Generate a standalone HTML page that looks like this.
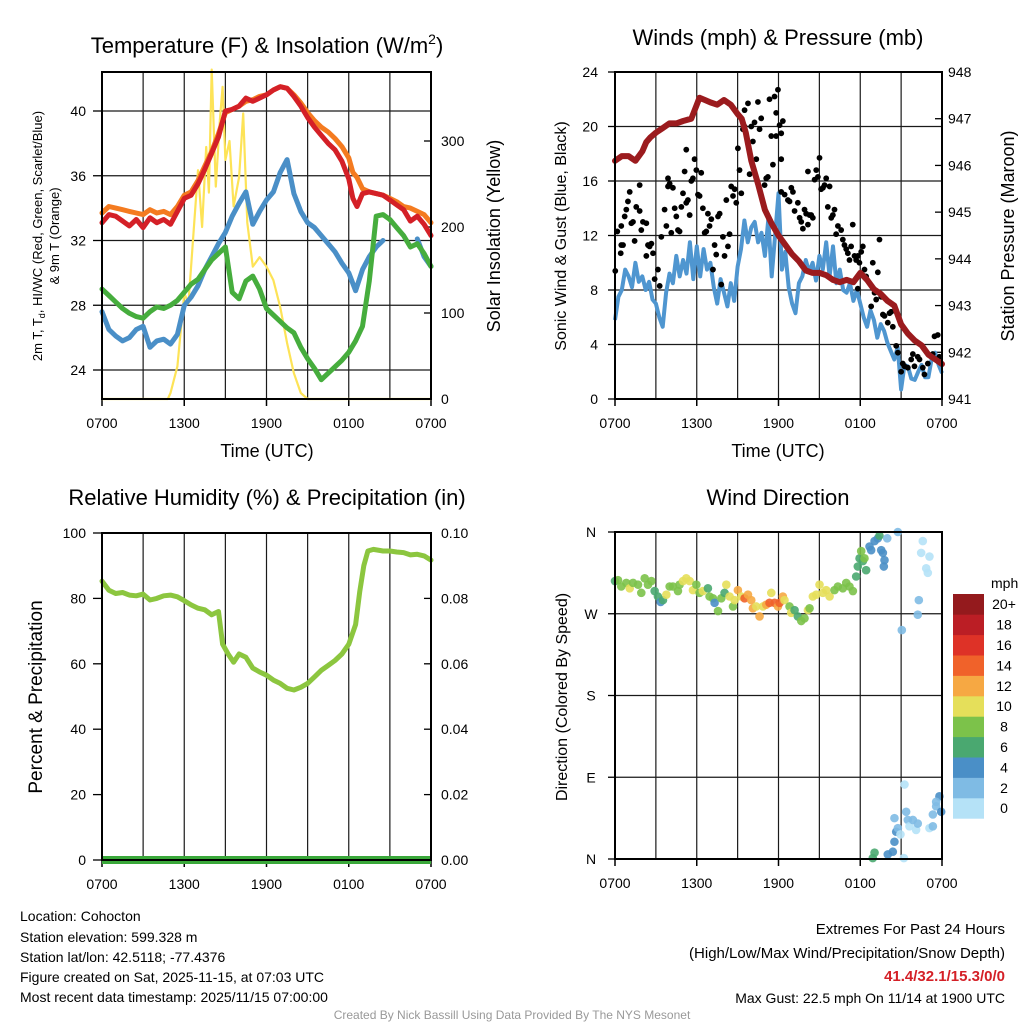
<!DOCTYPE html>
<html><head><meta charset="utf-8"><style>
body{margin:0;background:#fff}
svg{display:block;font-family:"Liberation Sans",Arial,sans-serif}
</style></head><body>
<svg id="s" width="1024" height="1024" viewBox="0 0 1024 1024" xmlns="http://www.w3.org/2000/svg">
<rect width="1024" height="1024" fill="#fff"/>
<g id="g1"></g>
<g id="g2"></g>
<g id="g3"></g>
<g id="g4"></g>
<g font-size="22" text-anchor="middle">
<text x="267" y="53">Temperature (F) &amp; Insolation (W/m<tspan font-size="14" dy="-9">2</tspan><tspan dy="9">)</tspan></text>
<text x="778" y="45">Winds (mph) &amp; Pressure (mb)</text>
<text x="267" y="505">Relative Humidity (%) &amp; Precipitation (in)</text>
<text x="778" y="505">Wind Direction</text>
</g>
<g font-size="18" text-anchor="middle">
<text x="267" y="457">Time (UTC)</text>
<text x="778" y="457">Time (UTC)</text>
<text transform="translate(42,236) rotate(-90)" font-size="13">2m T, T<tspan font-size="9" dy="3">d</tspan><tspan dy="-3">, HI/WC (Red, Green, Scarlet/Blue)</tspan></text>
<text transform="translate(59,236) rotate(-90)" font-size="13">&amp; 9m T (Orange)</text>
<text transform="translate(500,236) rotate(-90)">Solar Insolation (Yellow)</text>
<text transform="translate(566,236) rotate(-90)" font-size="16">Sonic Wind &amp; Gust (Blue, Black)</text>
<text transform="translate(1014,236) rotate(-90)">Station Pressure (Maroon)</text>
<text transform="translate(42,697) rotate(-90)" font-size="19">Percent &amp; Precipitation</text>
<text transform="translate(567,697) rotate(-90)" font-size="16">Direction (Colored By Speed)</text>
</g>
<g font-size="14">
<text x="20" y="921">Location: Cohocton</text>
<text x="20" y="942">Station elevation: 599.328 m</text>
<text x="20" y="962">Station lat/lon: 42.5118; -77.4376</text>
<text x="20" y="982">Figure created on Sat, 2025-11-15, at 07:03 UTC</text>
<text x="20" y="1002">Most recent data timestamp: 2025/11/15 07:00:00</text>
</g>
<g font-size="15" text-anchor="end">
<text x="1005" y="934">Extremes For Past 24 Hours</text>
<text x="1005" y="958">(High/Low/Max Wind/Precipitation/Snow Depth)</text>
<text x="1005" y="981" fill="#d42027" font-weight="bold">41.4/32.1/15.3/0/0</text>
<text x="1005" y="1003" font-size="14">Max Gust: 22.5 mph On 11/14 at 1900 UTC</text>
</g>
<text x="512" y="1019" font-size="12" fill="#999" text-anchor="middle">Created By Nick Bassill Using Data Provided By The NYS Mesonet</text>
</svg>
<script>
// ---------- data ----------
const xTickLabels=["0700","1300","1900","0100","0700"];
const tempHours=[0,0.5,1,1.5,2,2.5,3,3.5,4,4.5,5,5.5,6,6.5,7,7.5,8,8.5,9,9.5,10,10.5,11,11.5,12,12.5,13,13.5,14,14.5,15,15.5,16,16.5,17,17.5,18,18.3,18.6,19,19.5,20,20.5,21,21.5,22,22.5,23,23.5,24];
const temp2m=[33.1,33.6,33.5,33.2,32.9,33.3,32.8,33.4,33.1,33.3,33.0,33.8,34.6,34.8,35.5,36.4,37.4,38.4,40,40.1,40.3,40.8,40.6,40.8,41,41.3,41.5,41.4,40.9,40.3,39.6,39.0,38.5,38.0,37.6,36.9,35.8,34.6,34.1,34.9,35.0,34.9,34.8,34.5,34.2,33.9,33.2,33.5,33.0,32.3];
const temp9m=[33.7,34.1,34.0,33.9,33.8,33.7,33.6,33.9,33.7,33.8,33.6,34.1,34.8,35.0,35.7,36.6,37.5,38.6,39.9,40.1,40.3,40.6,40.7,40.9,41.0,41.3,41.5,41.4,41.0,40.5,39.9,39.4,39.0,38.7,38.3,37.8,37.1,36.2,35.9,35.2,35.0,34.9,34.8,34.6,34.4,34.1,34.0,33.8,33.6,33.1];
const halfHours=[0,0.5,1,1.5,2,2.5,3,3.5,4,4.5,5,5.5,6,6.5,7,7.5,8,8.5,9,9.5,10,10.5,11,11.5,12,12.5,13,13.5,14,14.5,15,15.5,16,16.5,17,17.5,18,18.5,19,19.5,20,20.5,21,21.5,22,22.5,23,23.5,24];
const wcBlue=[27.6,26.5,26.1,25.8,26.0,26.5,26.7,25.4,25.8,25.9,25.6,26.2,28.0,28.5,29.2,30.2,31.0,31.8,32.5,33.5,34.3,35.0,33.0,33.8,34.5,35.0,36.2,37.0,34.9,33.8,33.1,32.8,32.3,31.8,31.3,30.6,30.0,28.9,30.2,31.0,31.6,32.0,null,null,null,null,32.1,31.0,30.4];
const dewGreen=[29.0,28.6,28.2,27.8,27.5,27.3,27.2,27.6,27.9,27.8,28.0,28.3,28.8,29.3,29.6,30.2,30.8,31.2,31.6,28.8,28.4,29.5,29.8,29.0,27.8,27.4,27.0,26.6,26.3,25.4,24.7,24.1,23.4,23.8,24.2,24.6,25.1,25.8,26.7,29.5,33.5,33.6,33.3,32.8,32.3,31.6,31.8,31.2,30.4];
const solarHours=[0,4.8,5,5.5,6,6.3,6.5,7,7.3,7.6,7.8,8,8.3,8.6,8.8,9,9.3,9.6,10,10.3,10.6,11,11.5,12,12.5,13,13.5,14,14.5,15,24];
const solarVals=[0,0,7,38,123,111,154,266,200,293,240,383,247,325,363,278,300,224,258,332,205,154,165,154,138,107,65,30,7,0,0];
const tempTicks=[24,28,32,36,40];
const solarTicks=[0,100,200,300];

const presHours=[0,0.5,1,1.5,2,2.3,2.6,3,3.5,4,4.5,5,5.6,6,6.2,6.6,7,7.5,8,8.5,9,9.3,9.6,10,10.5,11,11.5,12,12.5,13,13.5,14,14.5,15,15.5,16,16.5,17,17.5,18,18.5,19,19.5,20,20.5,21,21.5,22,22.5,23,23.5,24];
const presVals=[946.1,946.2,946.2,946.1,946.3,946.5,946.6,946.7,946.8,946.9,946.9,946.95,947.0,947.3,947.45,947.4,947.35,947.3,947.4,947.3,947.1,947.0,946.7,946.1,945.6,945.05,944.75,944.5,944.3,944.1,943.95,943.75,943.7,943.7,943.65,943.55,943.5,943.55,943.5,943.7,943.55,943.35,943.25,943.1,943.0,942.6,942.4,942.25,942.15,941.95,941.85,941.75];
const windHours=[0,0.25,0.5,0.75,1,1.25,1.5,1.75,2,2.25,2.5,2.75,3,3.25,3.5,3.75,4,4.25,4.5,4.75,5,5.25,5.5,5.75,6,6.25,6.5,6.75,7,7.25,7.5,7.75,8,8.25,8.5,8.75,9,9.25,9.5,9.75,10,10.25,10.5,10.75,11,11.25,11.5,11.75,12,12.25,12.5,12.75,13,13.25,13.5,13.75,14,14.25,14.5,14.75,15,15.25,15.5,15.75,16,16.25,16.5,16.75,17,17.25,17.5,17.75,18,18.25,18.5,18.75,19,19.25,19.5,19.75,20,20.25,20.5,20.75,21,21.25,21.5,21.75,22,22.25,22.5,22.75,23,23.25,23.5,23.75,24];
const windVals=[5.8,7.5,8.0,9.5,9.0,8.2,10.0,8.6,9.0,8.0,8.6,7.3,7.0,6.0,5.3,7.8,9.2,8.5,10.5,9.0,10.2,9.2,11.5,8.8,11.2,9.0,11.0,9.5,10.0,8.2,7.0,8.8,7.8,6.8,8.5,7.2,9.7,11.0,13.1,11.5,12.6,13.0,11.5,12.2,10.5,13.2,9.0,12.0,15.1,9.5,10.8,8.2,7.0,6.3,8.5,9.0,10.2,9.3,10.0,8.7,10.5,9.5,11.5,9.0,11.2,8.5,9.5,8.0,7.8,8.5,7.2,8.0,7.0,6.0,5.3,6.5,5.8,4.5,5.5,5.0,4.1,3.5,2.9,3.8,0.7,2.5,2.4,1.5,1.4,2.0,2.5,1.6,1.6,3.0,3.4,2.5,1.9];
const gustHours=[0.02,0.17,0.42,0.46,0.59,0.46,0.71,0.83,0.95,1.08,1.2,1.32,1.44,1.56,1.81,1.81,1.93,2.05,2.3,2.3,2.42,2.54,2.67,2.79,2.91,3.15,3.28,3.4,3.64,3.77,3.89,3.89,4.01,4.13,4.25,4.38,4.5,4.62,4.74,4.87,4.99,5.11,5.23,5.23,5.35,5.48,5.6,5.72,5.84,5.97,6.09,6.21,6.33,6.45,6.58,6.7,6.82,6.94,7.07,7.19,7.31,7.43,7.56,7.68,7.8,7.92,8.04,8.17,8.29,8.41,8.53,8.66,8.78,8.9,9.02,9.14,9.27,9.39,9.51,9.51,9.76,9.88,10.0,10.12,10.24,10.37,10.49,10.61,10.73,10.98,11.1,11.22,11.34,11.47,11.59,11.71,11.83,11.83,11.96,12.08,12.2,12.32,12.2,12.2,12.45,12.69,12.81,12.94,13.06,13.18,13.42,13.55,13.67,13.79,13.91,14.03,14.16,14.28,14.4,14.52,14.16,14.65,14.77,14.89,15.01,15.13,15.26,15.38,15.5,15.62,15.75,15.87,15.99,16.11,16.23,16.36,16.6,16.72,16.84,16.97,17.09,17.21,17.33,17.45,17.58,17.7,17.82,17.94,18.07,18.19,17.82,18.31,18.43,18.8,18.92,19.05,19.17,19.29,19.41,19.54,19.66,19.78,20.02,20.15,20.27,20.39,20.64,20.76,21.0,21.12,21.25,21.49,21.74,21.86,21.98,22.22,22.35,22.59,22.71,22.96,23.32,23.45,23.69,23.81];
const gustVals=[9.4,12.3,10.7,11.3,11.3,12.7,13.4,13.9,14.5,15.2,12.9,13.0,11.6,14.1,13.8,15.7,12.4,13.0,12.9,10.5,11.3,11.2,11.4,10.7,8.8,9.5,8.3,11.9,13.9,12.7,15.6,16.2,15.8,12.2,15.5,14.0,13.4,12.4,12.3,14.1,15.1,16.7,18.3,14.4,14.6,13.5,16.0,16.2,17.6,16.8,15.0,14.9,16.6,14.0,12.2,12.3,13.6,12.7,13.2,9.5,11.3,10.6,13.4,13.6,8.4,11.9,10.5,14.6,11.2,12.1,15.6,14.9,15.4,14.4,18.4,16.8,15.1,19.8,20.0,21.2,21.7,16.5,20.0,18.9,20.3,17.6,21.8,19.8,20.6,15.7,16.2,16.3,22.0,19.3,17.2,22.2,21.0,19.3,22.7,20.1,19.5,20.4,17.6,15.2,15.0,14.6,14.5,15.5,15.2,13.8,14.4,13.3,13.0,12.5,13.9,13.6,12.8,13.5,13.5,13.3,16.7,16.1,16.8,16.3,17.7,15.4,15.5,15.7,16.2,14.1,15.6,13.3,13.5,13.9,12.1,12.7,12.4,11.7,11.3,11.0,10.7,10.2,11.2,12.8,10.5,10.2,10.5,10.0,10.8,11.2,8.1,9.5,9.0,6.8,10.0,7.8,7.3,9.3,11.7,7.5,6.2,6.1,5.6,6.3,6.4,5.3,3.9,3.4,2.0,2.6,2.4,2.3,2.9,3.3,2.4,3.1,2.9,2.3,1.8,2.6,3.3,4.6,4.7,3.1];
const windTicks=[0,4,8,12,16,20,24];
const presTicks=[941,942,943,944,945,946,947,948];

const rhHours=[0,0.5,1,1.5,2,2.5,3,3.5,4,4.5,5,5.5,6,6.5,7,7.5,8,8.5,8.8,9.2,9.6,10,10.5,11,11.5,12,12.5,13,13.5,14,14.5,15,15.5,16,16.5,17,17.5,18,18.5,18.8,19.1,19.4,19.8,20.5,21,21.5,22,22.5,23,23.5,24];
const rhVals=[85.3,82.5,81.5,81.8,81,80.8,81.3,79.5,80,80.8,81,80.5,79.3,78,77,76.5,75,76,66,63,60.5,63,62,58.7,57.5,56.5,55,54,52.5,52,52.8,54,56,58,59.5,61,63,66,72,82,90,94.5,95,94.5,94.5,94.2,94,93.3,93.5,93,91.7];
const precipHours=[0,24];
const precipVals=[0,0];
const rhTicks=[0,20,40,60,80,100];
const precipTicks=["0.00","0.02","0.04","0.06","0.08","0.10"];

const dirHours=[0,0.22,0.46,0.83,1.08,1.32,1.69,1.93,2.18,2.42,2.67,2.91,3.15,3.35,3.52,3.77,4.01,4.25,4.62,4.74,4.99,5.23,5.48,5.72,5.97,6.21,6.45,6.82,6.94,7.19,7.31,7.56,7.8,8.04,8.17,8.41,8.66,8.78,9.02,9.27,9.51,9.76,10.0,10.12,10.37,10.61,10.86,11.1,11.34,11.47,11.71,11.96,12.08,12.32,12.44,12.81,12.93,13.18,13.42,13.67,13.91,14.16,14.28,14.52,14.77,15.01,15.26,15.5,15.75,16.11,16.36,16.72,16.97,17.21,17.46,17.7,17.82,17.95,18.07,18.19,18.31,18.43,18.68,18.8,19.05,19.29,19.41,19.54,19.66,19.78,19.73,19.98,20.76,21.05,22.22,22.3,22.59,22.47,22.84,23.08,22.96,18.92,19.05,20.02,20.39,20.51,20.64,20.51,20.76,20.95,21.25,21.37,21.49,21.61,21.86,22.1,22.22,23.08,23.33,23.33,23.57,23.81,23.94,23.57,21.2];
const dirVals=[306,307,300,304,298,304,302,293,309,302,306,295,289,283,285,291,300,300,295,302,306,309,306,296,302,293,295,298,289,287,282,273,287,293,302,289,278,285,296,289,287,291,285,276,278,267,278,280,282,293,282,278,282,289,285,278,271,274,267,262,265,274,276,289,291,302,293,296,289,296,300,298,304,300,295,311,322,331,339,328,331,318,344,340,350,353,356,340,337,329,322,353,360,252,269,285,350,337,320,333,315,1,7,5,8,19,30,45,34,27,82,52,43,36,43,32,39,34,36,49,58,69,52,63,1];
const dirSpeed=[6,8,8,8,10,8,8,8,8,8,8,6,6,4,6,10,8,8,8,8,10,10,10,10,8,8,10,6,8,8,4,8,8,6,10,10,8,10,12,10,14,12,12,12,10,12,10,12,14,10,14,12,14,12,10,8,10,6,6,8,8,10,8,10,10,10,10,10,10,8,8,8,8,8,8,6,6,6,8,6,8,6,4,4,4,4,6,4,4,4,4,2,2,2,2,2,0,0,0,0,0,6,6,4,4,4,4,2,2,0,0,2,2,0,2,0,2,0,2,2,2,4,4,2,0];
const dirTicks=["N","E","S","W","N"];
const speedBins=["0","2","4","6","8","10","12","14","16","18","20+"];
const speedColors=["#b5e2f7","#7fbbe4","#4a8fc7","#4aa870","#7cc24a","#e5df5a","#f6a843","#f0622a","#de3227","#bb1e25","#941a1d"];

// ---------- helpers ----------
const NS="http://www.w3.org/2000/svg";
function mk(parent,tag,attrs){const e=document.createElementNS(NS,tag);for(const k in attrs)e.setAttribute(k,attrs[k]);parent.appendChild(e);return e;}
function txt(parent,x,y,s,anchor,size){const t=mk(parent,"text",{x:x,y:y,"text-anchor":anchor,"font-size":size});t.textContent=s;return t;}
function lin(a0,a1,p0,p1){return v=>p0+(v-a0)/(a1-a0)*(p1-p0);}
function pathFrom(xs,ys,sx,sy){let d="",pen=false;for(let i=0;i<xs.length;i++){if(ys[i]===null||ys[i]===undefined){pen=false;continue;}d+=(pen?"L":"M")+sx(xs[i]).toFixed(1)+","+sy(ys[i]).toFixed(1);pen=true;}return d;}
function frame(g,x0,x1,y0,y1,hGrid,sx){
  const gr=mk(g,"g",{stroke:"#1a1a1a","stroke-width":"1.2"});
  
  
  for(let h=3;h<24;h+=3){mk(gr,"line",{x1:sx(h),x2:sx(h),y1:y0,y2:y1});}
  hGrid.forEach(y=>mk(gr,"line",{x1:x0,x2:x1,y1:y,y2:y}));
  const xl=mk(g,"g",{});
  
  
  xTickLabels.forEach((s,i)=>{const t=txt(xl,sx(i*6),y1+29,s,"middle",14);});
  [0,6,12,18,24].forEach(h=>mk(g,"line",{x1:sx(h),x2:sx(h),y1:y1,y2:y1+7,stroke:"#000","stroke-width":"1.5"}));
}
function border(g,x0,x1,y0,y1){const r=mk(g,"rect",{x:x0,y:y0,width:x1-x0,height:y1-y0,fill:"none",stroke:"#000","stroke-width":"2"});}

// ---------- panel 1 ----------
(function(){
  const g=document.getElementById("g1");
  const x0=102,x1=431,y0=72,y1=399;
  const sx=lin(0,24,x0,x1), sy=lin(24,40,370,111), ss=lin(0,300,399,141);
  frame(g,x0,x1,y0,y1,tempTicks.map(sy),sx);
  const yl=mk(g,"g",{});
  
  
  tempTicks.forEach(v=>{txt(yl,86,sy(v)+5,String(v),"end",14);mk(yl,"line",{x1:93,x2:x0,y1:sy(v),y2:sy(v),stroke:"#000","stroke-width":"1.3"});});
  const yr=mk(g,"g",{});
  
  
  solarTicks.forEach(v=>{txt(yr,441,ss(v)+5,String(v),"start",14);mk(yr,"line",{x1:x1-7,x2:x1,y1:ss(v),y2:ss(v),stroke:"#000","stroke-width":"1.3"});});
  const series=[["solar",solarHours,solarVals,ss,"#fde357",2.2],["wind-chill-blue",halfHours,wcBlue,sy,"#4a8fc7",5],["dewpoint-green",halfHours,dewGreen,sy,"#46ad3d",5],["temp-9m-orange",tempHours,temp9m,sy,"#f47b20",5],["temp-2m-red",tempHours,temp2m,sy,"#d42027",5]];
  series.forEach(s=>{const p=mk(g,"path",{d:pathFrom(s[1],s[2],sx,s[3]),fill:"none",stroke:s[4],"stroke-width":s[5],"stroke-linejoin":"round","stroke-linecap":"round"});
    
    });
  border(g,x0,x1,y0,y1);
})();

// ---------- panel 2 ----------
(function(){
  const g=document.getElementById("g2");
  const x0=615,x1=942,y0=72,y1=399;
  const sx=lin(0,24,x0,x1), sy=lin(0,24,y1,y0), sp=lin(941,948,y1,y0);
  frame(g,x0,x1,y0,y1,windTicks.slice(1,-1).map(sy),sx);
  const yl=mk(g,"g",{});
  
  
  windTicks.forEach(v=>{txt(yl,598,sy(v)+5,String(v),"end",14);mk(yl,"line",{x1:x0-7,x2:x0,y1:sy(v),y2:sy(v),stroke:"#000","stroke-width":"1.3"});});
  const yr=mk(g,"g",{});
  
  
  presTicks.forEach(v=>{txt(yr,948,sp(v)+5,String(v),"start",14);mk(yr,"line",{x1:x1-7,x2:x1,y1:sp(v),y2:sp(v),stroke:"#000","stroke-width":"1.3"});});
  const w=mk(g,"path",{d:pathFrom(windHours,windVals,sx,sy),fill:"none",stroke:"#4f96d0","stroke-width":"4","stroke-linejoin":"round"});
  
  
  const gd=mk(g,"g",{fill:"#000"});
  
  
  gustHours.forEach((h,i)=>{const c=mk(gd,"circle",{cx:sx(h),cy:sy(gustVals[i]),r:2.9});
    
    });
  const p=mk(g,"path",{d:pathFrom(presHours,presVals,sx,sp),fill:"none",stroke:"#9b1b1e","stroke-width":"6","stroke-linejoin":"round","stroke-linecap":"round"});
  
  
  border(g,x0,x1,y0,y1);
})();

// ---------- panel 3 ----------
(function(){
  const g=document.getElementById("g3");
  const x0=102,x1=431,y0=533,y1=860;
  const sx=lin(0,24,x0,x1), sy=lin(0,100,y1,y0), sr=lin(0,0.1,y1,y0);
  frame(g,x0,x1,y0,y1,[],sx);
  const yl=mk(g,"g",{});
  
  
  rhTicks.forEach(v=>{txt(yl,86,sy(v)+5,String(v),"end",14);mk(yl,"line",{x1:93,x2:x0,y1:sy(v),y2:sy(v),stroke:"#000","stroke-width":"1.3"});});
  const yr=mk(g,"g",{});
  
  
  precipTicks.forEach(s=>{const v=parseFloat(s);txt(yr,441,sr(v)+5,s,"start",14);mk(yr,"line",{x1:x1-7,x2:x1,y1:sr(v),y2:sr(v),stroke:"#000","stroke-width":"1.3"});});
  const r=mk(g,"path",{d:pathFrom(rhHours,rhVals,sx,sy),fill:"none",stroke:"#8cc63f","stroke-width":"5","stroke-linejoin":"round","stroke-linecap":"round"});
  
  
  const pr=mk(g,"path",{d:pathFrom(precipHours,precipVals,sx,sr),fill:"none",stroke:"#3aa83a","stroke-width":"8"});
  
  
  border(g,x0,x1,y0,y1);
})();

// ---------- panel 4 ----------
(function(){
  const g=document.getElementById("g4");
  const x0=615,x1=942,y0=532,y1=859;
  const sx=lin(0,24,x0,x1), sy=lin(0,360,y1,y0);
  frame(g,x0,x1,y0,y1,[90,180,270].map(sy),sx);
  const yl=mk(g,"g",{});
  
  
  dirTicks.forEach((s,i)=>{txt(yl,591,sy(i*90)+5,s,"middle",14);mk(yl,"line",{x1:x0-7,x2:x0,y1:sy(i*90),y2:sy(i*90),stroke:"#000","stroke-width":"1.3"});});
  const dd=mk(g,"g",{"fill-opacity":"0.9"});
  
  
  dirHours.forEach((h,i)=>{if(dirVals[i]===undefined)return;const c=mk(dd,"circle",{cx:sx(h),cy:sy(dirVals[i]),r:4.3,fill:speedColors[Math.min(10,Math.round((dirSpeed[i]||0)/2))]});
    
    });
  border(g,x0,x1,y0,y1);
  const lg=mk(g,"g",{});
  
  
  const lt=txt(lg,991,588,"mph","start",14);
  
  
  const top=594,bh=20.4;
  speedBins.forEach((s,i)=>{const k=speedBins.length-1-i;
    const b=mk(lg,"rect",{x:953,y:top+k*bh,width:31,height:bh+0.3,fill:speedColors[i]});
    
    
    const t=txt(lg,1004,top+k*bh+bh/2+5,s,"middle",14);
    
    });
})();
</script>
</body></html>
